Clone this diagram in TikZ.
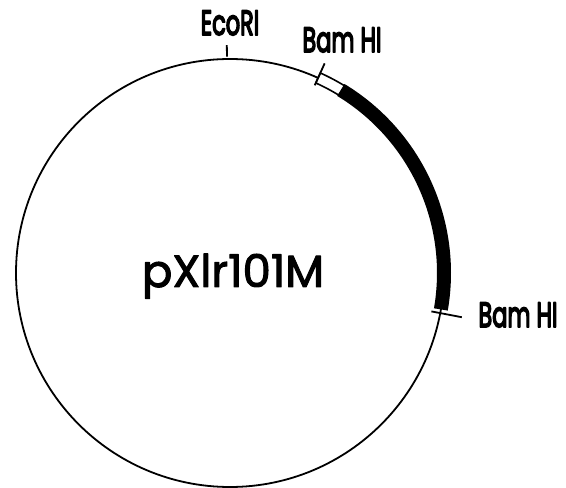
\documentclass[tikz,border=0pt]{standalone}
\usepackage{fontspec}
\setmainfont{Poppins}
% outline the glyphs as well as filling them, for a heavier pen stroke
\newcommand\penstroke[2]{\special{pdf:literal direct #1 w 1 J 1 j 2 Tr}#2\special{pdf:literal direct 0 Tr}}
\begin{document}
\begin{tikzpicture}[x=1pt,y=1pt,
  site/.style={line width=1.8pt},
  sitelabel/.style={anchor=base,inner sep=0pt,font=\fontsize{35}{38}\selectfont,xscale=0.64},
  title/.style={anchor=base,inner sep=0pt,font=\fontsize{45}{48}\selectfont}]
\useasboundingbox (0,0) rectangle (566,488);
\coordinate (c) at (230,215);
\def\R{214}
% plasmid backbone
\draw[line width=1.8pt] (c) circle[radius=\R];
% cloned insert (solid band)
\draw[line width=14pt] ([shift={(58.8:\R)}]c) arc[start angle=58.8,end angle=-9.8,radius=\R];
% open segment at the start of the insert
\draw[line width=1.6pt,fill=white]
  ([shift={(65.7:\R-5.5)}]c) arc[start angle=65.7,end angle=58.6,radius=\R-5.5]
  -- ([shift={(58.6:\R+5.5)}]c) arc[start angle=58.6,end angle=65.7,radius=\R+5.5] -- cycle;
% restriction sites
\coordinate (eA) at ([shift={(90.8:\R+2.5)}]c);
\coordinate (eB) at ([shift={(90.8:\R+14)}]c);
\draw[site] (eA) -- (eB);
\coordinate (bA) at ([shift={(65.7:\R-8)}]c);
\coordinate (bB) at ([shift={(65.7:\R+16)}]c);
\draw[site] (bA) -- (bB);
\coordinate (cA) at ([shift={(-10.8:\R-9)}]c);
\coordinate (cB) at ([shift={(-10.8:\R+22)}]c);
\draw[site] (cA) -- (cB);
% labels
\node[sitelabel] (eco) at (230,453) {\penstroke{1.8}{EcoRI}};
\node[sitelabel] (bam1) at (342,436) {\penstroke{1.8}{Bam HI}};
\node[sitelabel] (bam2) at (518,161) {\penstroke{1.8}{Bam HI}};
\node[title] (name) at (233,201) {\penstroke{1.0}{pXlr101M}};
\end{tikzpicture}
\end{document}
